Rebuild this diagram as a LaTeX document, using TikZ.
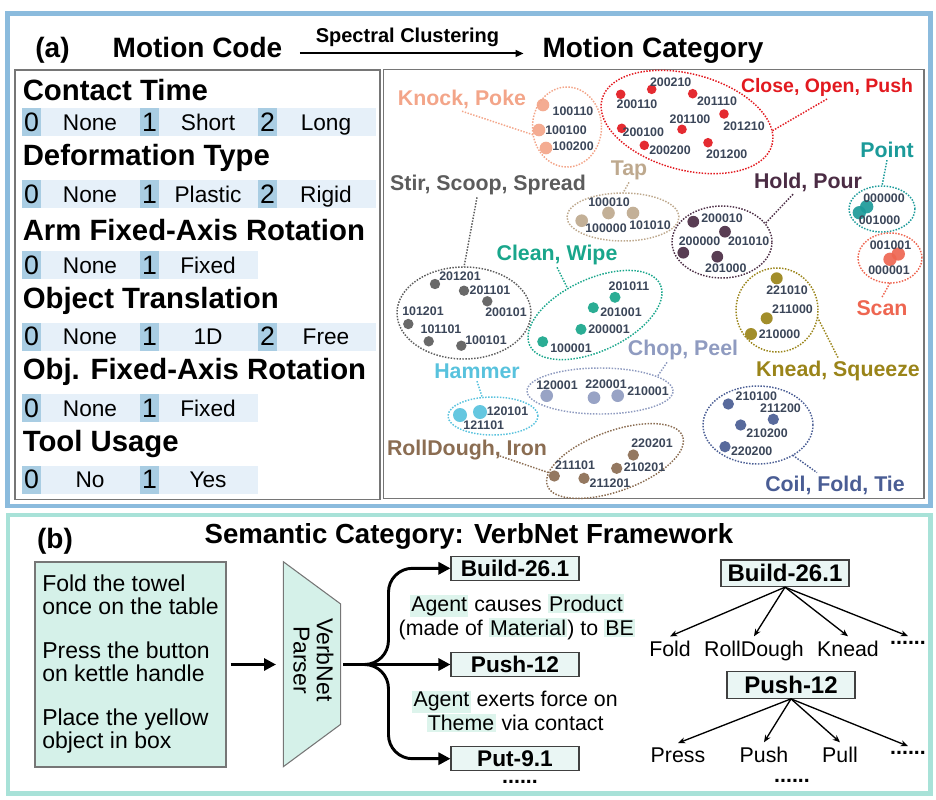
\documentclass[tikz,border=0pt]{standalone}
\usepackage{fontspec}
\setmainfont{Liberation Sans}
\usetikzlibrary{arrows.meta,calc,shapes.geometric}
\definecolor{frameA}{HTML}{8BBBDD}
\definecolor{frameB}{HTML}{A8E2D8}
\definecolor{panelc}{HTML}{767676}
\definecolor{rowc}{HTML}{E6F0F9}
\definecolor{numc}{HTML}{A9CDE3}
\definecolor{mint}{HTML}{D5F1E9}
\definecolor{vboxc}{HTML}{EAF6F4}
\definecolor{hlc}{HTML}{DDF4EC}
\definecolor{codec}{HTML}{3B4659}
\definecolor{cKP}{HTML}{F3A589}
\definecolor{cCOP}{HTML}{E2191F}
\definecolor{cTap}{HTML}{BEA98E}
\definecolor{cSSS}{HTML}{5C5C5C}
\definecolor{cCW}{HTML}{19A68B}
\definecolor{cCP}{HTML}{8F9BC0}
\definecolor{cH}{HTML}{58C2DD}
\definecolor{cRD}{HTML}{8B6D52}
\definecolor{cHP}{HTML}{4B2C44}
\definecolor{cPt}{HTML}{1B9A99}
\definecolor{cSc}{HTML}{EE6651}
\definecolor{cKS}{HTML}{9A8419}
\definecolor{cCFT}{HTML}{4A5D94}
\newcommand\hlw[1]{{\setlength{\fboxsep}{1pt}\colorbox{hlc}{#1}}}
\begin{document}
\begin{tikzpicture}[x=0.75pt,y=0.75pt,
  ttl/.style={font=\bfseries\fontsize{21}{25}\selectfont, inner sep=0pt, anchor=base},
  head/.style={font=\bfseries\fontsize{22}{26}\selectfont, inner sep=0pt, anchor=base west},
  rowbg/.style={fill=rowc, minimum height=21pt, inner sep=0pt, minimum width=#1},
  numbox/.style={fill=numc, minimum height=21pt, minimum width=14.25pt, inner sep=0pt, font=\fontsize{20}{22}\selectfont},
  opt/.style={font=\fontsize{17}{20}\selectfont, inner sep=0pt, anchor=base},
  ell/.style n args={3}{shape=ellipse, draw=#1, line width=1.1pt, dash pattern=on 1.1pt off 1.1pt, minimum width=#2*1.5pt, minimum height=#3*1.5pt, inner sep=0pt, outer sep=0pt},
  conn/.style={draw=#1, line width=1.1pt, dash pattern=on 1.1pt off 1.1pt},
  cdot/.style 2 args={circle, fill=#1, fill opacity=0.92, minimum size=#2, inner sep=0pt, outer sep=0pt},
  code/.style={font=\bfseries\fontsize{9.3}{10}\selectfont, text=codec, inner sep=0pt},
  clab/.style={font=\bfseries\fontsize{16}{18}\selectfont, text=#1, anchor=base, inner sep=2pt},
  bigarr/.style={line width=2.2pt, -{Triangle[length=9pt,width=9pt]}},
  tarr/.style={line width=1pt, -{Stealth[length=5.5pt,width=4.5pt]}},
  vbox/.style={draw=black!75, fill=vboxc, line width=0.8pt, minimum width=96pt, minimum height=18pt, inner sep=0pt, font=\bfseries\fontsize{17}{20}\selectfont},
  tbox/.style={draw=black!75, fill=vboxc, line width=0.8pt, minimum width=96pt, minimum height=20pt, inner sep=0pt, font=\bfseries\fontsize{18}{21}\selectfont},
  desc/.style={align=center, font=\fontsize{16}{18}\selectfont, inner sep=0pt},
  leaf/.style={font=\fontsize{16}{18}\selectfont, anchor=base, inner sep=3pt},
  ellip/.style={font=\bfseries\fontsize{16}{18}\selectfont, inner sep=0pt}
]
\useasboundingbox (0,0) rectangle (936,-800);
% frames
\draw[line width=3.2pt, frameA] (7.5,-13.5) rectangle (930.5,-506);
\draw[line width=3.2pt, frameB] (8,-515) rectangle (930.5,-793.5);
\draw[panelc, line width=1.1pt] (15,-70) rectangle (380,-499.5);
\draw[panelc, line width=1.1pt] (383.5,-69.5) rectangle (924,-498.5);
% title row
\node[ttl] (ta) at (52.5,-57) {(a)};
\node[ttl] (mc) at (197.5,-57) {Motion Code};
\node[ttl] (mcat) at (653,-57) {Motion Category};
\draw[line width=1.5pt, -{Triangle[length=6pt,width=5pt]}, shorten <=13pt, shorten >=14pt] (mc.mid east) -- (mcat.mid west);
\node[font=\bfseries\fontsize{15}{18}\selectfont, anchor=base, inner sep=0pt] (sc) at (407.5,-42) {Spectral Clustering};
% headings
\node[head] (h1) at (22.5,-100) {Contact Time};
\node[head] (h2) at (22.5,-165) {Deformation Type};
\node[head] (h3) at (22.5,-240) {Arm Fixed-Axis Rotation};
\node[head] (h4) at (22.5,-308) {Object Translation};
\node[head] (h5) at (22.5,-379.5) {Obj. Fixed-Axis Rotation};
\node[head] (h6) at (22.5,-451) {Tool Usage};
% code rows
\foreach \i/\y/\a/\b/\c in {1/122/None/Short/Long, 2/194/None/Plastic/Rigid, 4/336.5/None/1D/Free}{
  \node[rowbg=265.5pt] (row\i) at (199,-\y) {};
  \node[numbox] (nA\i) at (31.5,-\y) {0};
  \node[numbox] (nB\i) at (149.5,-\y) {1};
  \node[numbox] (nC\i) at (267.5,-\y) {2};
  \node[opt] (oA\i) at (90,-\y-8) {\a};
  \node[opt] (oB\i) at (208,-\y-8) {\b};
  \node[opt] (oC\i) at (326,-\y-8) {\c};
}
\foreach \i/\y/\a/\b in {3/265/None/Fixed, 5/408/None/Fixed, 6/479.5/No/Yes}{
  \node[rowbg=177pt] (row\i) at (140,-\y) {};
  \node[numbox] (nA\i) at (31.5,-\y) {0};
  \node[numbox] (nB\i) at (149.5,-\y) {1};
  \node[opt] (oA\i) at (90,-\y-8) {\a};
  \node[opt] (oB\i) at (208,-\y-8) {\b};
}
% ---------- clusters ----------
% Knock, Poke
\node[ell={cKP}{34.5}{40}] (eKP) at (567,-127) {};
\foreach \n/\x/\y in {1/543/105,2/539/130,3/546/148}
  \node[cdot={cKP}{9.5pt}] (kp\n) at (\x,-\y) {};
\foreach \n/\x/\y/\t in {1/573/111/100110,2/566/130/100100,3/573/146/100200}
  \node[code] (kpc\n) at (\x,-\y) {\t};
\node[clab=cKP] (lKP) at (462,-105) {Knock, Poke};
\draw[conn=cKP] (lKP.south) -- (eKP.193);
% Close, Open, Push
\node[ell={cCOP}{88}{48}, rotate=-15] (eCOP) at (687,-122) {};
\foreach \n/\x/\y in {1/620.7/94.3,2/651.7/89.3,3/692.7/93.7,4/724/114,5/682/129.3,6/621.7/128.3,7/644.3/145.3,8/708/142.7}
  \node[cdot={cCOP}{7.2pt}] (cop\n) at (\x,-\y) {};
\foreach \n/\x/\y/\t in {1/637/104/200110,2/670.7/82.7/200210,3/717/101/201110,4/744/126/201210,5/690/119/201100,6/643.3/132.3/200100,7/670/150.7/200200,8/726.7/154.3/201200}
  \node[code] (copc\n) at (\x,-\y) {\t};
\node[clab=cCOP, font=\bfseries\fontsize{14.6}{17}\selectfont] (lCOP) at (827,-92) {Close, Open, Push};
\draw[conn=cCOP] (lCOP.south) -- (eCOP.9);
% Tap
\node[ell={cTap}{56}{24}] (eTap) at (623,-217) {};
\foreach \n/\x/\y in {1/581.7/220.7,2/608.5/213,3/633/213}
  \node[cdot={cTap}{9.5pt}] (tp\n) at (\x,-\y) {};
\foreach \n/\x/\y/\t in {1/609/202/100010,2/606/228.3/100000,3/650/225/101010}
  \node[code] (tpc\n) at (\x,-\y) {\t};
\node[clab=cTap] (lTap) at (629,-175) {Tap};
\draw[conn=cTap] (lTap.south) -- (eTap.north);
% Stir, Scoop, Spread
\node[ell={cSSS}{67}{46}] (eSSS) at (464,-313) {};
\foreach \n/\x/\y in {1/435/284,2/464/290.7,3/487.3/301.3,4/408.3/324,5/428.7/341.3,6/461.3/345.7}
  \node[cdot={cSSS}{7.8pt}] (ss\n) at (\x,-\y) {};
\foreach \n/\x/\y/\t in {1/460/276.7/201201,2/490/290.7/201101,3/506/312.7/200101,4/423/311.7/101201,5/441/329/101101,6/486/340/100101}
  \node[code] (ssc\n) at (\x,-\y) {\t};
\node[clab=cSSS] (lSSS) at (488,-190) {Stir, Scoop, Spread};
\draw[conn=cSSS] ($(lSSS.south)+(-11,0)$) -- (eSSS.north);
% Clean, Wipe
\node[ell={cCW}{72}{36}, rotate=25] (eCW) at (595,-315) {};
\foreach \n/\x/\y in {1/615/297.3,2/593.3/307.7,3/581/329.3,4/542.7/341.7}
  \node[cdot={cCW}{8.3pt}] (cw\n) at (\x,-\y) {};
\foreach \n/\x/\y/\t in {1/629/286.7/201011,2/621/312.3/201001,3/609/329.3/200001,4/571/348.3/100001}
  \node[code] (cwc\n) at (\x,-\y) {\t};
\node[clab=cCW] (lCW) at (557,-260) {Clean, Wipe};
\draw[conn=cCW] (lCW.south) -- (eCW.111);
% Chop, Peel
\node[ell={cCP}{73}{23}] (eCP) at (600,-391) {};
\foreach \n/\x/\y in {1/546.7/395.7,2/594/397.7,3/617.7/395.7}
  \node[cdot={cCP}{9.5pt}] (cp\n) at (\x,-\y) {};
\foreach \n/\x/\y/\t in {1/557/385/120001,2/606/384/220001,3/648/391/210001}
  \node[code] (cpc\n) at (\x,-\y) {\t};
\node[clab=cCP] (lCP) at (683,-355) {Chop, Peel};
\draw[conn=cCP] ($(lCP.south)+(-16,0)$) -- (eCP.14);
% Hammer
\node[ell={cH}{45}{19}] (eH) at (493,-416) {};
\foreach \n/\x/\y in {1/460/415,2/480/412}
  \node[cdot={cH}{10.5pt}] (hm\n) at (\x,-\y) {};
\foreach \n/\x/\y/\t in {1/507.5/411.7/120101,2/483.7/425/121101}
  \node[code] (hmc\n) at (\x,-\y) {\t};
\node[clab=cH] (lH) at (477,-378) {Hammer};
\draw[conn=cH] (lH.south) -- (eH.120);
% RollDough, Iron
\node[ell={cRD}{72}{30}, rotate=20] (eRD) at (615,-461) {};
\foreach \n/\x/\y in {1/633.3/455,2/616.7/468.3,3/584/478.3,4/554.3/476}
  \node[cdot={cRD}{8.5pt}] (rd\n) at (\x,-\y) {};
\foreach \n/\x/\y/\t in {1/652/443.3/220201,2/644.5/467.7/210201,3/610/483.3/211201,4/575/465/211101}
  \node[code] (rdc\n) at (\x,-\y) {\t};
\node[clab=cRD] (lRD) at (467,-455) {RollDough, Iron};
\draw[conn=cRD] ($(lRD.base)+(30,0)$) -- (eRD.170);
% Hold, Pour
\node[ell={cHP}{50}{36}] (eHP) at (722,-242) {};
\foreach \n/\x/\y in {1/693.3/221.7,2/725/231.7,3/683.3/252.7,4/717.3/256.7}
  \node[cdot={cHP}{8.8pt}] (hp\n) at (\x,-\y) {};
\foreach \n/\x/\y/\t in {1/722/218.3/200010,2/748.7/241.7/201010,3/699.5/241.7/200000,4/725.8/268.3/201000}
  \node[code] (hpc\n) at (\x,-\y) {\t};
\node[clab=cHP] (lHP) at (808,-188) {Hold, Pour};
\draw[conn=cHP] ($(lHP.south)+(-15,0)$) -- (eHP.23);
% Point
\node[ell={cPt}{33}{23}] (ePt) at (882,-209) {};
\foreach \n/\x/\y in {1/866.7/206.7,2/859.3/212.7}
  \node[cdot={cPt}{10pt}] (pt\n) at (\x,-\y) {};
\foreach \n/\x/\y/\t in {1/884/198.3/000000,2/879.5/220/001000}
  \node[code] (ptc\n) at (\x,-\y) {\t};
\node[clab=cPt] (lPt) at (887,-157) {Point};
\draw[conn=cPt] (lPt.south) -- (ePt.north);
% Scan
\node[ell={cSc}{32}{25}] (eSc) at (890,-258) {};
\foreach \n/\x/\y in {1/898.3/254,2/890/259.3}
  \node[cdot={cSc}{10pt}] (sn\n) at (\x,-\y) {};
\foreach \n/\x/\y/\t in {1/890.5/245/001001,2/889/270.7/000001}
  \node[code] (snc\n) at (\x,-\y) {\t};
\node[clab=cSc] (lSc) at (882,-315) {Scan};
\draw[conn=cSc] (eSc.south) -- (lSc.north);
% Knead, Squeeze
\node[ell={cKS}{41}{42}] (eKS) at (777,-310) {};
\foreach \n/\x/\y in {1/776.7/278.3,2/766.7/318.3,3/751/334}
  \node[cdot={cKS}{9pt}] (ks\n) at (\x,-\y) {};
\foreach \n/\x/\y/\t in {1/787/290/221010,2/792.5/309.3/211000,3/779.5/334/210000}
  \node[code] (ksc\n) at (\x,-\y) {\t};
\node[clab=cKS] (lKS) at (838,-376) {Knead, Squeeze};
\draw[conn=cKS] (eKS.-10) -- (lKS.north);
% Coil, Fold, Tie
\node[ell={cCFT}{55}{39}] (eCFT) at (758,-425) {};
\foreach \n/\x/\y in {1/728.3/404,2/773.3/419.3,3/740.7/425,4/725/446.7}
  \node[cdot={cCFT}{8.5pt}] (cf\n) at (\x,-\y) {};
\foreach \n/\x/\y/\t in {1/756.3/396.7/210100,2/780.5/408.3/211200,3/767/433.3/210200,4/751.7/451.7/220200}
  \node[code] (cfc\n) at (\x,-\y) {\t};
\node[clab=cCFT] (lCFT) at (835,-491) {Coil, Fold, Tie};
\draw[conn=cCFT] (eCFT.-41) -- ($(lCFT.north)+(-18,0)$);
% ---------- panel (b) ----------
\node[ttl] (tb) at (55,-548) {(b)};
\node[font=\bfseries\fontsize{20.7}{25}\selectfont, anchor=base, inner sep=0pt] (tsem) at (469,-543) {Semantic Category: VerbNet Framework};
\node[draw=panelc, fill=mint, line width=0.8pt, minimum width=143.25pt, minimum height=153.75pt, align=left, font=\fontsize{17.25}{17.25}\selectfont, inner sep=0pt] (instr) at (130.5,-664.5) {Fold the towel\\once on the table\\[15.75pt]Press the button\\on kettle handle\\[15.75pt]Place the yellow\\object in box};
\draw[draw=panelc, fill=mint, line width=0.8pt] (283.3,-561.7) -- (340.7,-604) -- (340.7,-724.3) -- (283.3,-766.7) -- cycle;
\node[rotate=-90, align=center, font=\fontsize{17.25}{17.5}\selectfont, inner sep=0pt] (parser) at (313.5,-660) {VerbNet\\Parser};
\coordinate (pin) at (276,-664.5);
\coordinate (pout) at (343,-664.5);
\draw[bigarr, shorten <=3pt] (instr.east) -- (pin);
\node[vbox] (b1) at (515,-568.3) {Build-26.1};
\node[vbox] (b2) at (515,-664.5) {Push-12};
\node[vbox] (b3) at (515,-758.7) {Put-9.1};
\draw[bigarr, rounded corners=18pt] (pout) -| ($(b1.west)+(-62,0)$) -- (b1.west);
\draw[bigarr] (pout) -- (b2.west);
\draw[bigarr, rounded corners=18pt] (pout) -| ($(b3.west)+(-62,0)$) -- (b3.west);
\node[desc] (d1) at (517,-617) {\hlw{Agent} causes \hlw{Product}\\(made of \hlw{Material}) to \hlw{BE}};
\node[desc] (d2) at (515,-711.7) {\hlw{Agent} exerts force on\\\hlw{Theme} via contact};
\node[ellip] (dd1) at (520,-782) {......};
% tree
\node[tbox] (t1) at (785,-573.3) {Build-26.1};
\node[tbox] (t2) at (791,-685) {Push-12};
\node[leaf] (f1) at (670,-656) {Fold};
\node[leaf] (f2) at (754,-656) {RollDough};
\node[leaf] (f3) at (848,-656) {Knead};
\node[ellip, inner sep=4pt] (f4) at (908,-643.3) {......};
\node[leaf] (g1) at (678,-762) {Press};
\node[leaf] (g2) at (764,-762) {Push};
\node[leaf] (g3) at (840,-762) {Pull};
\node[ellip, inner sep=4pt] (g4) at (908,-753.3) {......};
\node[ellip] (g5) at (792,-781) {......};
\foreach \c in {f1,f2,f3,f4} \draw[tarr] (t1.south) -- (\c.north);
\foreach \c in {g1,g2,g3,g4} \draw[tarr] (t2.south) -- (\c.north);
\end{tikzpicture}
\end{document}
